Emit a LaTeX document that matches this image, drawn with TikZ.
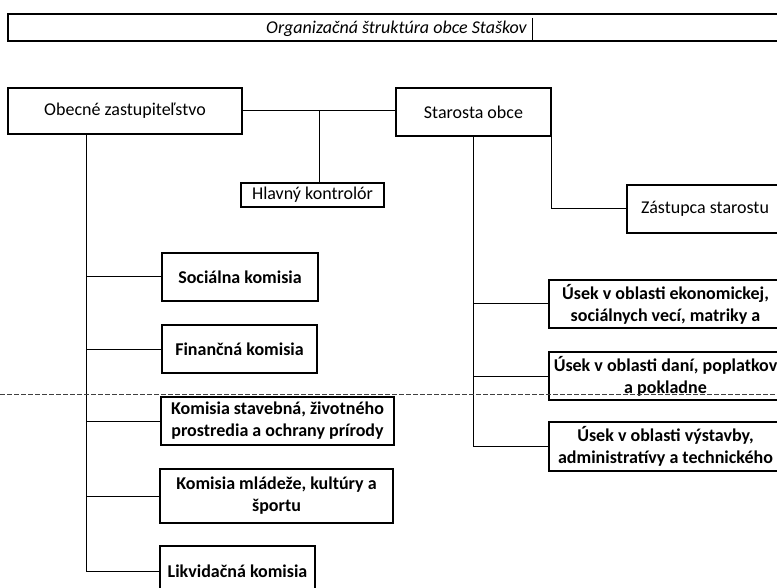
\documentclass[tikz,border=0pt]{standalone}
\usepackage{fontspec}
\setmainfont{Carlito}
\begin{document}
\begin{tikzpicture}[x=1pt,y=-1pt,
  box/.style={draw,line width=1.1pt,inner sep=0pt,align=center,font=\fontsize{18}{22}\selectfont},
  boxb/.style={box,font=\bfseries\fontsize{18}{22}\selectfont},
  sz/.style 2 args={minimum width=#1pt,minimum height=#2pt},
  link/.style={line width=1pt},
  fold/.style={line width=0.6pt,black!75,dash pattern=on 5pt off 2pt}]
\useasboundingbox (0,0) rectangle (777,588);
\clip (0,0) rectangle (777,588);
% title
\node[draw,line width=1.3pt,inner sep=0pt,sz={777}{27}] (titlebox) at (396.5,27.5) {};
\node[inner sep=0pt,font=\itshape\fontsize{18}{22}\selectfont] (title) at (396.5,28.5) {Organizačná štruktúra obce Staškov};
\coordinate (cur) at (532,18);
\draw[line width=0.8pt] (cur) -- (cur |- titlebox.south);
% top level
\node[box,sz={234}{46}] (Obecne) at (125,111) {Obecné zastupiteľstvo};
\node[box,sz={155}{48}] (Starosta) at (473.5,112) {Starosta obce};
\node[box,sz={143}{24}] (Hlavny) at (312.5,195) {Hlavný kontrolór};
\node[box,sz={156}{48}] (Zastupca) at (705,209) {Zástupca starostu};
% right branch
\node[boxb,sz={233}{48}] (UsekE) at (665.5,304) {Úsek v oblasti ekonomickej,\\sociálnych vecí, matriky a};
\node[boxb,sz={233}{48}] (UsekD) at (665.5,376) {Úsek v oblasti daní, poplatkov\\a pokladne};
\node[boxb,sz={233}{49}] (UsekV) at (665.5,446.5) {Úsek v oblasti výstavby,\\administratívy a technického};
% left branch
\node[boxb,sz={156}{48}] (Soc) at (240,277) {Sociálna komisia};
\node[boxb,sz={155}{48}] (Fin) at (239.5,349) {Finančná komisia};
\node[boxb,sz={233}{48}] (KomS) at (277.5,421) {Komisia stavebná, životného\\prostredia a ochrany prírody};
\node[boxb,sz={233}{54}] (KomM) at (276.5,496) {Komisia mládeže, kultúry a\\športu};
\node[boxb,sz={155}{50}] (Likv) at (237.5,571) {Likvidačná komisia};
% connectors
\draw[link] (Obecne.east) -- (Obecne.east -| Starosta.west);
\coordinate (j1) at (319,111);
\draw[link] (j1) -- (j1 |- Hlavny.north);
\draw[link] (Starosta.south east) |- (Zastupca.west);
\coordinate (tr) at (473,136);
\foreach \n in {UsekE,UsekD,UsekV} \draw[link] (tr) |- (\n.west);
\coordinate (tl) at (86,134);
\foreach \n in {Soc,Fin,KomS,KomM,Likv} \draw[link] (tl) |- (\n.west);
% fold line
\coordinate (fl) at (0,394);
\coordinate (fr) at (777,394);
\draw[fold] (fl) -- (fr);
\end{tikzpicture}
\end{document}
